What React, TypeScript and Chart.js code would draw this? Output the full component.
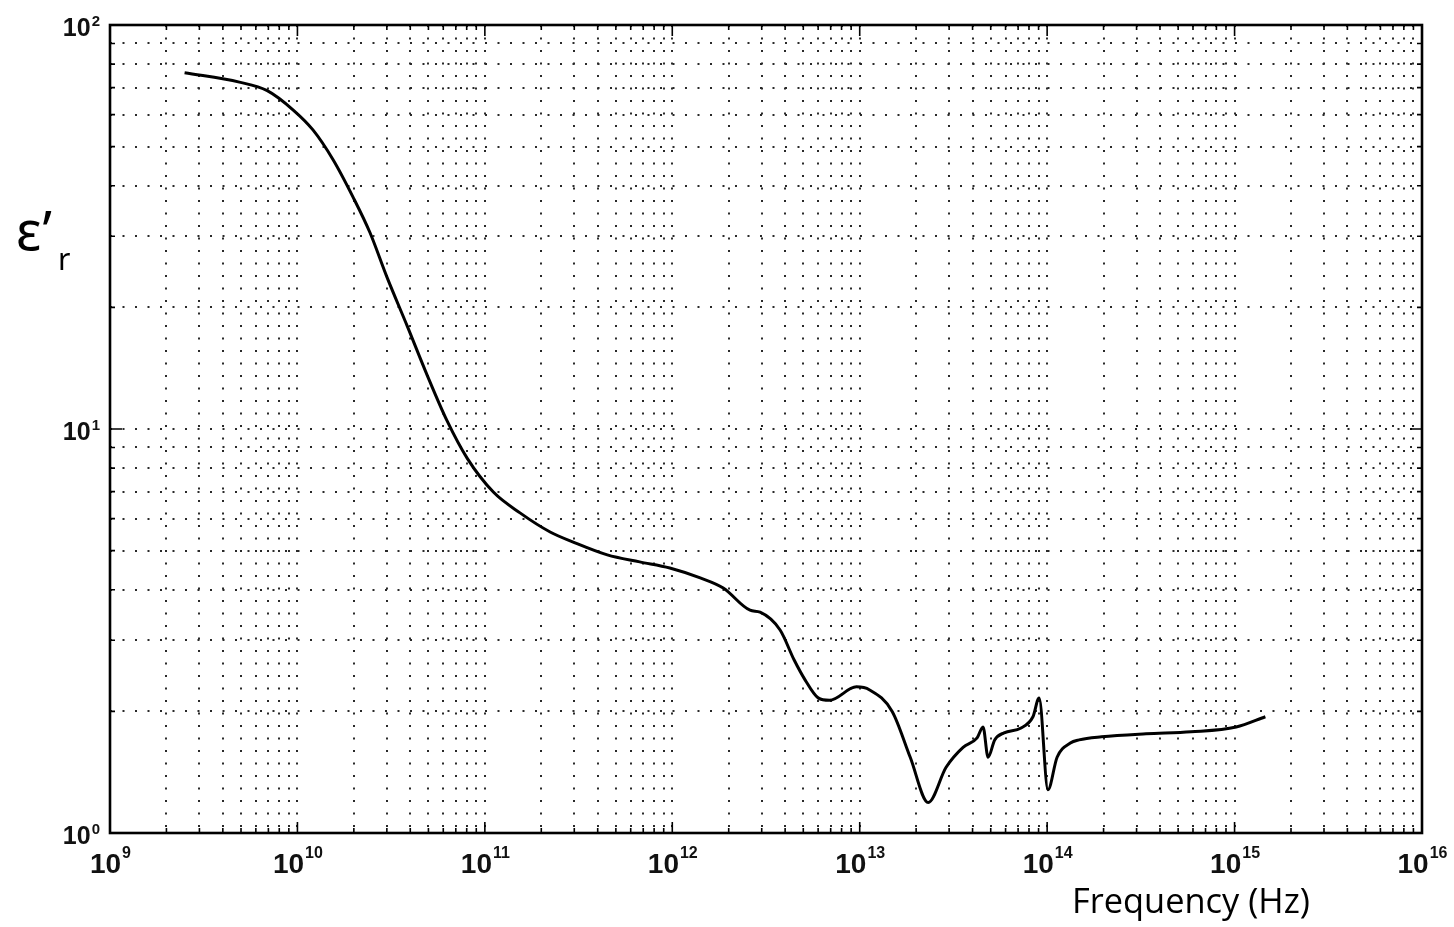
import React, { useEffect, useRef } from 'react';
import { Chart, registerables } from 'chart.js';

Chart.register(...registerables);

// Frequency (Hz) of each sampled point of the curve
const FREQUENCY_HZ = [
  2.5e9, 4.9e9, 6.9e9, 9.5e9, 1.21e10, 1.55e10, 1.98e10, 2.44e10, 3.0e10, 3.85e10,
  4.92e10, 6.29e10, 8.04e10, 1.11e11, 1.54e11, 2.23e11, 2.96e11, 4.5e11, 6.7e11, 9.7e11,
  1.41e12, 1.87e12, 2.6e12, 2.94e12, 3.76e12, 4.47e12, 5.12e12, 6.0e12, 6.9e12, 9.6e12,
  1.13e13, 1.49e13, 1.86e13, 2.32e13, 2.89e13, 3.56e13, 4.23e13, 4.55e13, 4.84e13, 5.25e13,
  5.89e13, 7.26e13, 8.4e13, 9.06e13, 1.01e14, 1.13e14, 1.33e14, 1.48e14, 1.95e14, 3.37e14,
  5.86e14, 1.02e15, 1.46e15,
];

// Relative permittivity (real part) at each frequency
const EPSILON_R = [
  76.2, 72.2, 68.8, 61.6, 55.0, 46.4, 37.5, 30.6, 23.8, 18.0,
  13.6, 10.47, 8.47, 6.98, 6.2, 5.56, 5.25, 4.88, 4.69, 4.53,
  4.28, 4.04, 3.56, 3.52, 3.18, 2.68, 2.39, 2.16, 2.13, 2.3,
  2.26, 2.0, 1.54, 1.19, 1.455, 1.63, 1.72, 1.83, 1.54, 1.7,
  1.77, 1.82, 1.94, 2.16, 1.28, 1.54, 1.67, 1.7, 1.73, 1.76,
  1.78, 1.83, 1.94,
];

// Axis decade exponents (tick labels 10^n)
const X_DECADES = [9, 10, 11, 12, 13, 14, 15, 16];
const Y_DECADES = [0, 1, 2];

const X_TITLE = 'Frequency (Hz)';
const Y_TITLE_MAIN = 'ε’';
const Y_TITLE_SUB = 'r';

function logTicks(minExp: number, maxExp: number) {
  const out: { value: number }[] = [];
  for (let e = minExp; e < maxExp; e++) {
    for (let k = 1; k < 10; k++) out.push({ value: k * Math.pow(10, e) });
  }
  out.push({ value: Math.pow(10, maxExp) });
  return out;
}

function isMajor(v: number) {
  const l = Math.log10(v);
  return Math.abs(l - Math.round(l)) < 1e-9;
}

const LABEL_FAMILY = '"Liberation Sans", Arial, sans-serif';

const framePlugin = {
  id: 'framePlugin',
  afterDraw(chart: any) {
    const { ctx, chartArea: a } = chart;
    const xs = chart.scales.x;
    const ys = chart.scales.y;
    ctx.save();
    ctx.strokeStyle = '#000';
    ctx.lineWidth = 1.6;
    ctx.setLineDash([]);
    ctx.beginPath();
    for (const t of xs.ticks) {
      const px = xs.getPixelForValue(t.value);
      const len = isMajor(t.value) ? 11 : 5;
      ctx.moveTo(px, a.bottom);
      ctx.lineTo(px, a.bottom - len);
      ctx.moveTo(px, a.top);
      ctx.lineTo(px, a.top + len);
    }
    for (const t of ys.ticks) {
      const py = ys.getPixelForValue(t.value);
      const len = isMajor(t.value) ? 12 : 5;
      ctx.moveTo(a.left, py);
      ctx.lineTo(a.left + len, py);
      ctx.moveTo(a.right, py);
      ctx.lineTo(a.right - len, py);
    }
    ctx.stroke();

    ctx.lineWidth = 2.6;
    ctx.strokeRect(a.left, a.top, a.right - a.left, a.bottom - a.top);

    // x tick labels
    ctx.fillStyle = '#111';
    ctx.textBaseline = 'alphabetic';
    ctx.textAlign = 'left';
    const baseFontX = `bold 28px ${LABEL_FAMILY}`;
    const expFontX = `bold 16px ${LABEL_FAMILY}`;
    for (const e of X_DECADES) {
      const px = xs.getPixelForValue(Math.pow(10, e));
      ctx.font = baseFontX;
      const w1 = ctx.measureText('10').width;
      ctx.font = expFontX;
      const w2 = ctx.measureText(String(e)).width;
      const left = px - (w1 + w2) / 2;
      ctx.font = baseFontX;
      ctx.fillText('10', left, a.bottom + 40);
      ctx.font = expFontX;
      ctx.fillText(String(e), left + w1 + 1, a.bottom + 25);
    }

    // y tick labels
    const baseFontY = `bold 25px ${LABEL_FAMILY}`;
    const expFontY = `bold 15px ${LABEL_FAMILY}`;
    for (const e of Y_DECADES) {
      const py = ys.getPixelForValue(Math.pow(10, e));
      ctx.font = expFontY;
      const w2 = ctx.measureText(String(e)).width;
      ctx.font = baseFontY;
      const w1 = ctx.measureText('10').width;
      const right = a.left - 10;
      ctx.fillText('10', right - w2 - 1 - w1, py + 11);
      ctx.font = expFontY;
      ctx.fillText(String(e), right - w2, py + 1);
    }

    // x axis title
    ctx.fillStyle = '#000';
    ctx.font = '100px "Open Sans", "Noto Sans", sans-serif';
    const tw = ctx.measureText(X_TITLE).width;
    const fs = (100 * 238) / tw;
    ctx.font = `${fs}px "Open Sans", "Noto Sans", sans-serif`;
    ctx.fillText(X_TITLE, 1072, 913);

    // y axis title
    ctx.font = '54px "Noto Sans", "Open Sans", sans-serif';
    ctx.fillText(Y_TITLE_MAIN, 16, 250);
    ctx.font = '30px "Noto Sans", "Open Sans", sans-serif';
    ctx.fillText(Y_TITLE_SUB, 58, 270);
    ctx.restore();
  },
};

export default function App() {
  const ref = useRef<HTMLCanvasElement | null>(null);
  useEffect(() => {
    if (!ref.current) return;
    const points = FREQUENCY_HZ.map((f, i) => ({ x: f, y: EPSILON_R[i] }));
    const xMin = Math.pow(10, X_DECADES[0]);
    const xMax = Math.pow(10, X_DECADES[X_DECADES.length - 1]);
    const yMin = Math.pow(10, Y_DECADES[0]);
    const yMax = Math.pow(10, Y_DECADES[Y_DECADES.length - 1]);
    const gridOpts = { color: '#2a2a2a', lineWidth: 2, drawTicks: false };
    const chart = new Chart(ref.current, {
      type: 'line',
      data: {
        datasets: [
          {
            data: points,
            borderColor: '#000',
            borderWidth: 3,
            pointRadius: 0,
            fill: false,
            cubicInterpolationMode: 'monotone',
          },
        ],
      },
      options: {
        animation: false,
        responsive: false,
        layout: { padding: { top: 25, right: 32, left: 0, bottom: 0 } },
        plugins: { legend: { display: false }, tooltip: { enabled: false } },
        scales: {
          x: {
            type: 'logarithmic',
            min: xMin,
            max: xMax,
            afterBuildTicks: (s: any) => {
              s.ticks = logTicks(X_DECADES[0], X_DECADES[X_DECADES.length - 1]);
            },
            afterFit: (s: any) => {
              s.height = 94;
            },
            ticks: { display: false },
            grid: gridOpts,
            border: { display: false, dash: [2, 10.5] },
          },
          y: {
            type: 'logarithmic',
            min: yMin,
            max: yMax,
            afterBuildTicks: (s: any) => {
              s.ticks = logTicks(Y_DECADES[0], Y_DECADES[Y_DECADES.length - 1]);
            },
            afterFit: (s: any) => {
              s.width = 110;
            },
            ticks: { display: false },
            grid: gridOpts,
            border: { display: false, dash: [2, 10.5] },
          },
        },
      },
      plugins: [framePlugin],
    } as any);
    return () => chart.destroy();
  }, []);
  return (
    <div style={{ position: 'fixed', left: 0, top: 0, width: 1454, height: 927, overflow: 'hidden', background: '#fff' }}>
      <canvas ref={ref} width={1454} height={927} style={{ display: 'block' }} />
    </div>
  );
}
